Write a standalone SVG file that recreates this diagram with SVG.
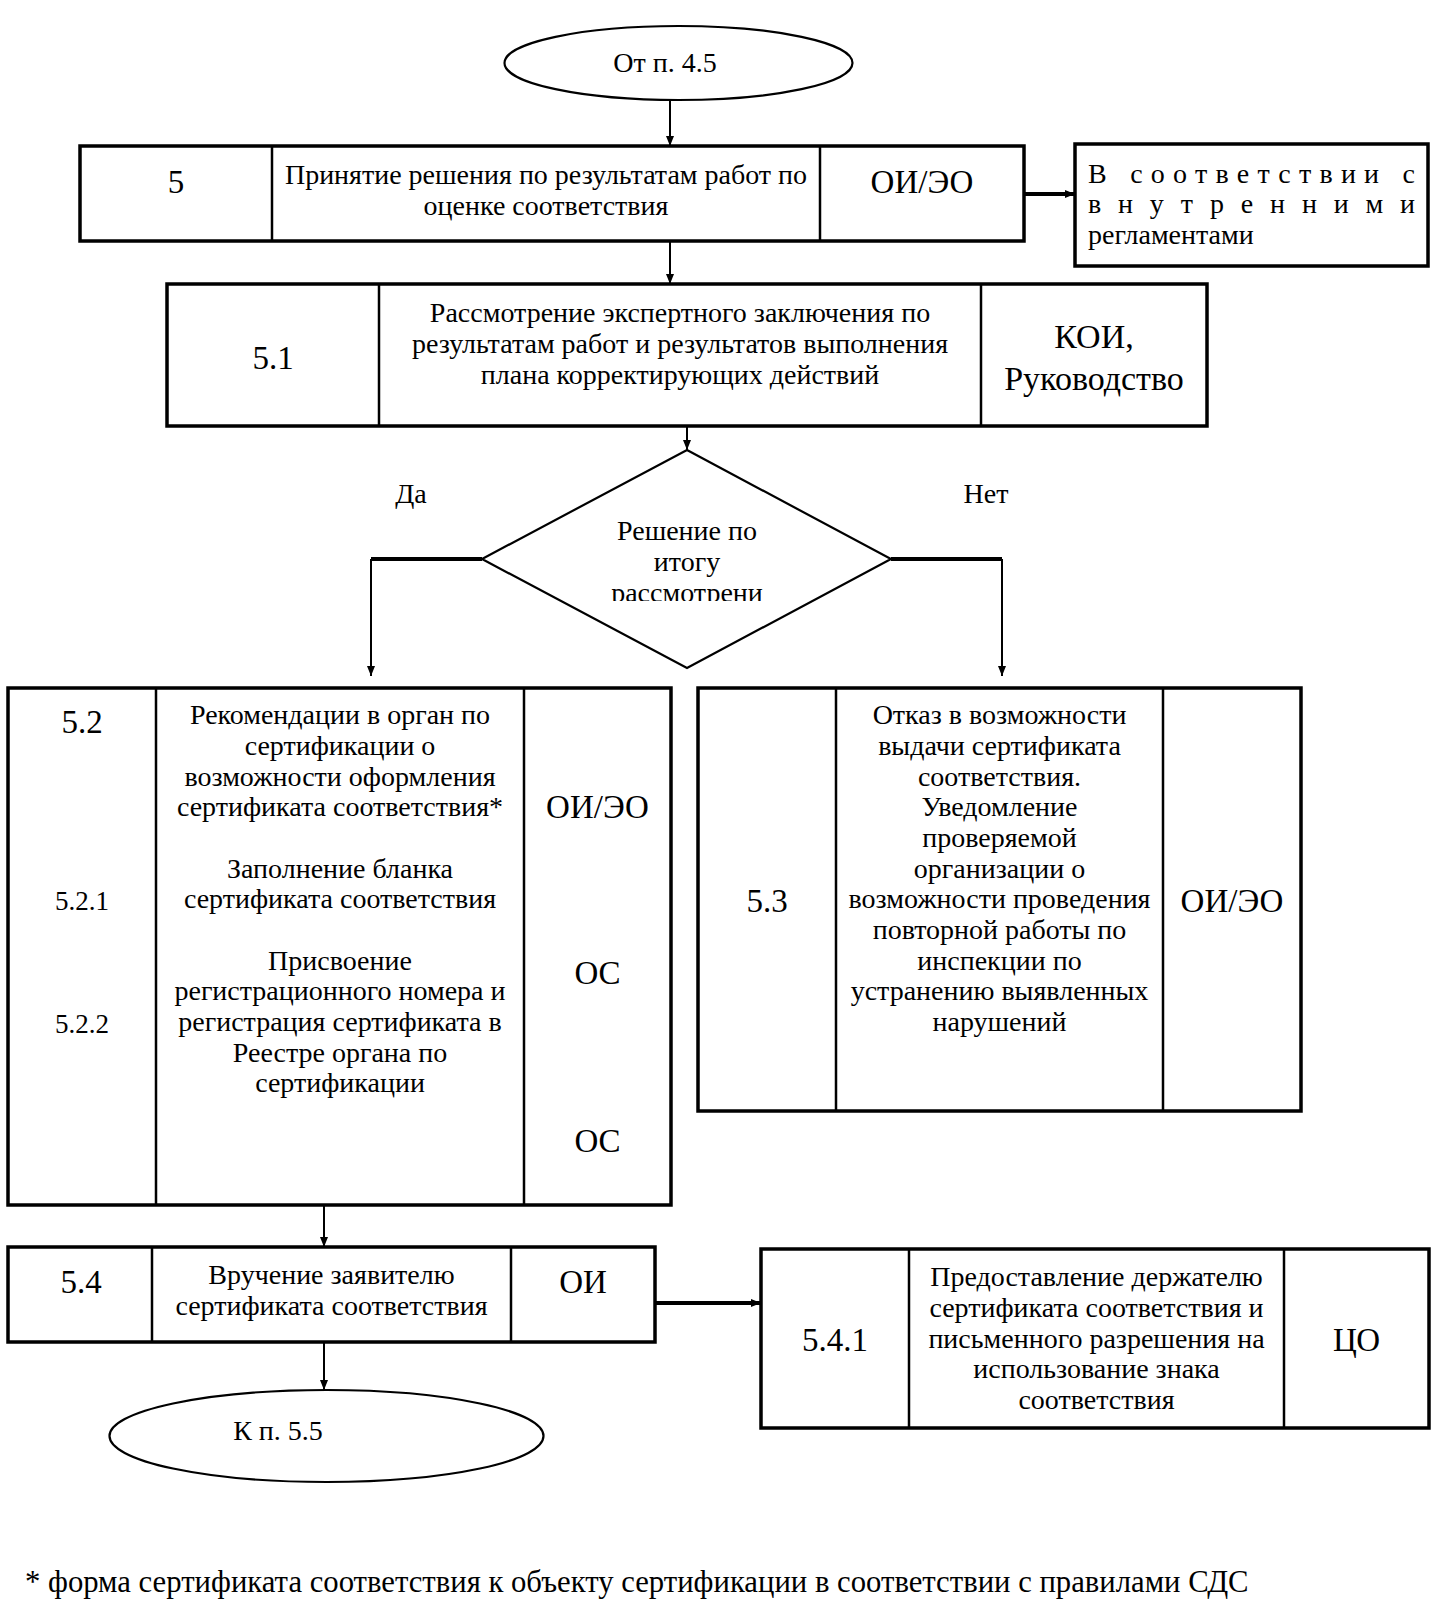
<svg xmlns="http://www.w3.org/2000/svg" width="1448" height="1602" viewBox="0 0 1448 1602">
<style>
text{font-family:"Liberation Serif","Times New Roman",serif;fill:#000;}
.t{font-size:28px;text-anchor:middle;}
.s{font-size:27px;text-anchor:middle;}
.b{font-size:33px;text-anchor:middle;}
.box{fill:#fff;stroke:#000;stroke-width:3.5;}
.div{stroke:#000;stroke-width:2.5;}
.ell{fill:#fff;stroke:#000;stroke-width:2.2;}
.c{fill:none;stroke:#000;stroke-width:2;}
.ct{fill:none;stroke:#000;stroke-width:4;}
</style>
<defs>
<marker id="ah" markerUnits="userSpaceOnUse" markerWidth="12" markerHeight="10" refX="10" refY="5" orient="auto">
<path d="M0,1 L10,5 L0,9 Z" fill="#000"/>
</marker>
<clipPath id="dclip"><rect x="480" y="450" width="420" height="151"/></clipPath>
</defs>
<g id="start">
<ellipse class="ell" cx="678.5" cy="63" rx="174" ry="37"/>
<text class="t" x="665" y="72">От п. 4.5</text>
</g>
<g id="n5">
<rect class="box" x="80" y="146" width="944" height="95"/>
<line class="div" x1="272" y1="146" x2="272" y2="241"/>
<line class="div" x1="820" y1="146" x2="820" y2="241"/>
<text class="b" x="176" y="193">5</text>
<text class="t" x="546" y="184">Принятие решения по результатам работ по</text>
<text class="t" x="546" y="215">оценке соответствия</text>
<text class="b" x="922" y="193">ОИ/ЭО</text>
</g>
<g id="reg">
<rect class="box" x="1075" y="144" width="353" height="122"/>
<text style="font-size:28px" x="1088" y="183" textLength="327" lengthAdjust="spacing">В соответствии с</text>
<text style="font-size:28px" x="1088" y="213" textLength="327" lengthAdjust="spacing">внутренними</text>
<text style="font-size:28px" x="1088" y="244">регламентами</text>
</g>
<g id="n51">
<rect class="box" x="167" y="284" width="1040" height="142"/>
<line class="div" x1="379" y1="284" x2="379" y2="426"/>
<line class="div" x1="981" y1="284" x2="981" y2="426"/>
<text class="b" x="273" y="369">5.1</text>
<text class="t" x="680" y="322">Рассмотрение экспертного заключения по</text>
<text class="t" x="680" y="353">результатам работ и результатов выполнения</text>
<text class="t" x="680" y="384">плана корректирующих действий</text>
<text class="b" x="1094" y="348" style="font-size:34px">КОИ,</text>
<text class="b" x="1094" y="390" style="font-size:34px">Руководство</text>
</g>
<g id="decision">
<polygon points="687,450 891,559 687,668 482,559" fill="#fff" stroke="#000" stroke-width="2.2"/>
<g clip-path="url(#dclip)">
<text class="t" x="687" y="540">Решение по</text>
<text class="t" x="687" y="571">итогу</text>
<text class="t" x="687" y="602">рассмотрени</text>
</g>
</g>
<g id="labels">
<text class="t" x="411" y="503">Да</text>
<text class="t" x="986" y="503">Нет</text>
</g>
<g id="n52">
<rect class="box" x="8" y="688" width="663" height="517"/>
<line class="div" x1="156" y1="688" x2="156" y2="1205"/>
<line class="div" x1="524" y1="688" x2="524" y2="1205"/>
<text class="b" x="82" y="733">5.2</text>
<text class="s" x="82" y="910">5.2.1</text>
<text class="s" x="82" y="1033">5.2.2</text>
<text class="t" x="340" y="724">Рекомендации в орган по</text>
<text class="t" x="340" y="755">сертификации о</text>
<text class="t" x="340" y="786">возможности оформления</text>
<text class="t" x="340" y="816">сертификата соответствия*</text>
<text class="t" x="340" y="878">Заполнение бланка</text>
<text class="t" x="340" y="908">сертификата соответствия</text>
<text class="t" x="340" y="970">Присвоение</text>
<text class="t" x="340" y="1000">регистрационного номера и</text>
<text class="t" x="340" y="1031">регистрация сертификата в</text>
<text class="t" x="340" y="1062">Реестре органа по</text>
<text class="t" x="340" y="1092">сертификации</text>
<text class="b" x="597.5" y="818">ОИ/ЭО</text>
<text class="b" x="597.5" y="984">ОС</text>
<text class="b" x="597.5" y="1152">ОС</text>
</g>
<g id="n53">
<rect class="box" x="698" y="688" width="603" height="423"/>
<line class="div" x1="836" y1="688" x2="836" y2="1111"/>
<line class="div" x1="1163" y1="688" x2="1163" y2="1111"/>
<text class="b" x="767" y="912">5.3</text>
<text class="t" x="999.5" y="724">Отказ в возможности</text>
<text class="t" x="999.5" y="755">выдачи сертификата</text>
<text class="t" x="999.5" y="786">соответствия.</text>
<text class="t" x="999.5" y="816">Уведомление</text>
<text class="t" x="999.5" y="847">проверяемой</text>
<text class="t" x="999.5" y="878">организации о</text>
<text class="t" x="999.5" y="908">возможности проведения</text>
<text class="t" x="999.5" y="939">повторной работы по</text>
<text class="t" x="999.5" y="970">инспекции по</text>
<text class="t" x="999.5" y="1000">устранению выявленных</text>
<text class="t" x="999.5" y="1031">нарушений</text>
<text class="b" x="1232" y="912">ОИ/ЭО</text>
</g>
<g id="n54">
<rect class="box" x="8" y="1247" width="647" height="95"/>
<line class="div" x1="152" y1="1247" x2="152" y2="1342"/>
<line class="div" x1="511" y1="1247" x2="511" y2="1342"/>
<text class="b" x="81" y="1293">5.4</text>
<text class="t" x="331.5" y="1284">Вручение заявителю</text>
<text class="t" x="331.5" y="1315">сертификата соответствия</text>
<text class="b" x="583" y="1293">ОИ</text>
</g>
<g id="n541">
<rect class="box" x="761" y="1249" width="668" height="179"/>
<line class="div" x1="909" y1="1249" x2="909" y2="1428"/>
<line class="div" x1="1284" y1="1249" x2="1284" y2="1428"/>
<text class="b" x="835" y="1351">5.4.1</text>
<text class="t" x="1096.5" y="1286">Предоставление держателю</text>
<text class="t" x="1096.5" y="1317">сертификата соответствия и</text>
<text class="t" x="1096.5" y="1348">письменного разрешения на</text>
<text class="t" x="1096.5" y="1378">использование знака</text>
<text class="t" x="1096.5" y="1409">соответствия</text>
<text class="b" x="1356.5" y="1351">ЦО</text>
</g>
<g id="end">
<ellipse class="ell" cx="326.5" cy="1436" rx="217" ry="46"/>
<text class="t" x="278" y="1440">К п. 5.5</text>
</g>
<g id="connectors">
<path class="c" d="M670,100 V146" marker-end="url(#ah)"/>
<path class="ct" d="M1024,194 H1075" marker-end="url(#ah)"/>
<path class="c" d="M670,241 V284" marker-end="url(#ah)"/>
<path class="c" d="M687,426 V450" marker-end="url(#ah)"/>
<path class="ct" d="M482,559 H371"/>
<path class="c" d="M371,559 V676" marker-end="url(#ah)"/>
<path class="ct" d="M891,559 H1002"/>
<path class="c" d="M1002,559 V676" marker-end="url(#ah)"/>
<path class="c" d="M324,1205 V1247" marker-end="url(#ah)"/>
<path class="ct" d="M655,1303 H761" marker-end="url(#ah)"/>
<path class="c" d="M324,1342 V1390" marker-end="url(#ah)"/>
</g>
<g id="footnote">
<text style="font-size:30.7px" x="25" y="1592">* форма сертификата соответствия к объекту сертификации в соответствии с правилами СДС</text>
</g>
</svg>
